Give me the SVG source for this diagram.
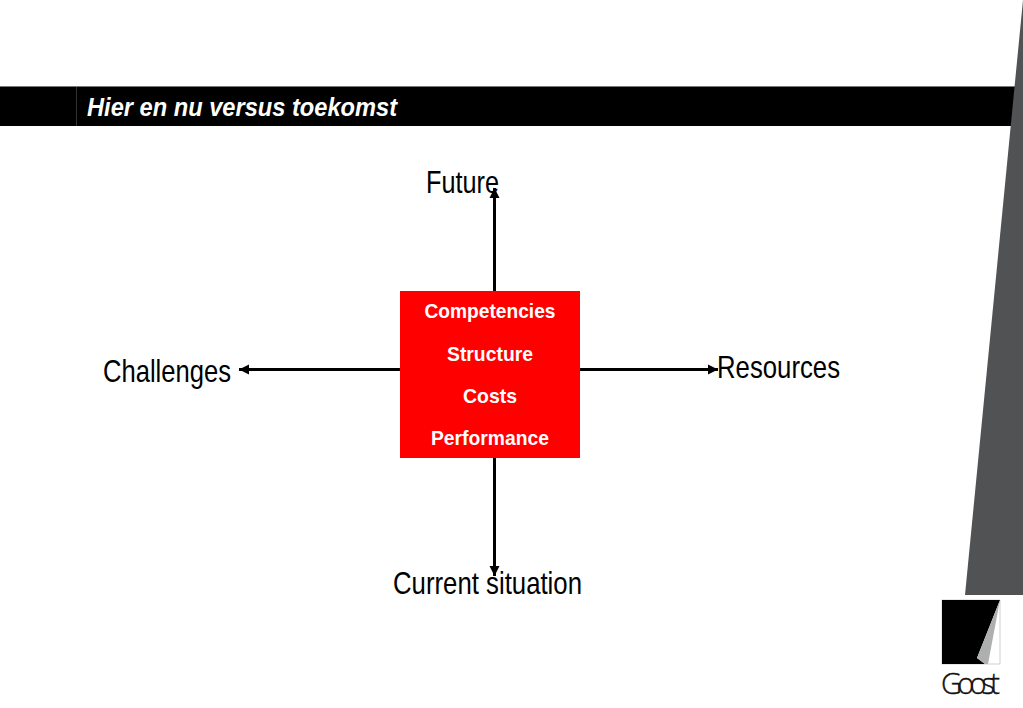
<svg xmlns="http://www.w3.org/2000/svg" width="1023" height="708" viewBox="0 0 1023 708">
<style>
.lbl{font-family:"Liberation Sans",Arial,sans-serif;font-size:32px;fill:#000}
.box{font-family:"Liberation Sans",Arial,sans-serif;font-size:21px;font-weight:bold;fill:#fff;text-anchor:middle}
.conn{stroke:#000;stroke-width:3;fill:none}
</style>
<defs>
<marker id="ah" markerUnits="userSpaceOnUse" markerWidth="12" markerHeight="12" refX="10" refY="6" orient="auto"><path d="M0 1L10 6L0 11Z" fill="#000"/></marker>
</defs>
<rect width="1023" height="708" fill="#fff"/>
<g id="header">
<rect x="0" y="86" width="1023" height="40" fill="#000"/>
<rect x="0" y="86" width="1023" height="1" fill="#777"/>
<rect x="76" y="87" width="1" height="39" fill="#333"/>
<text x="87" y="116" font-family="'Liberation Sans',Arial,sans-serif" font-size="26" font-weight="bold" font-style="italic" fill="#fff" textLength="310" lengthAdjust="spacingAndGlyphs">Hier en nu versus toekomst</text>
</g>
<polygon id="wedge" points="1023,0 1023,595 965,595" fill="#515254"/>
<g id="connectors">
<line class="conn" x1="494.5" y1="291" x2="494.5" y2="188" marker-end="url(#ah)"/>
<line class="conn" x1="494.5" y1="458" x2="494.5" y2="576" marker-end="url(#ah)"/>
<line class="conn" x1="400" y1="369.5" x2="239" y2="369.5" marker-end="url(#ah)"/>
<line class="conn" x1="580" y1="369.5" x2="718" y2="369.5" marker-end="url(#ah)"/>
</g>
<g id="center">
<rect x="400" y="291" width="180" height="167" fill="#f00"/>
<text class="box" x="490" y="318" textLength="131" lengthAdjust="spacingAndGlyphs">Competencies</text>
<text class="box" x="490" y="361" textLength="86" lengthAdjust="spacingAndGlyphs">Structure</text>
<text class="box" x="490" y="403" textLength="54" lengthAdjust="spacingAndGlyphs">Costs</text>
<text class="box" x="490" y="445" textLength="118" lengthAdjust="spacingAndGlyphs">Performance</text>
</g>
<g id="future"><text class="lbl" x="426" y="193" textLength="73" lengthAdjust="spacingAndGlyphs">Future</text></g>
<g id="challenges"><text class="lbl" x="103" y="382" textLength="128" lengthAdjust="spacingAndGlyphs">Challenges</text></g>
<g id="resources"><text class="lbl" x="717" y="378" textLength="123" lengthAdjust="spacingAndGlyphs">Resources</text></g>
<g id="current"><text class="lbl" x="393" y="594" textLength="189" lengthAdjust="spacingAndGlyphs">Current situation</text></g>
<g id="logo">
<rect x="942" y="600" width="58" height="64" fill="#fff" stroke="#bbb" stroke-width="0.7"/>
<polygon points="942,600 1000,600 977,658 985,664 942,664" fill="#000"/>
<polygon points="1000,600 988,664 985,664 977,658" fill="#aeb0af"/>
<text x="941" y="694" font-family="'Open Sans',Lato,sans-serif" font-weight="300" font-size="29" fill="#111" stroke="#111" stroke-width="0.4" textLength="59" lengthAdjust="spacing">Goost</text>
</g>
</svg>
